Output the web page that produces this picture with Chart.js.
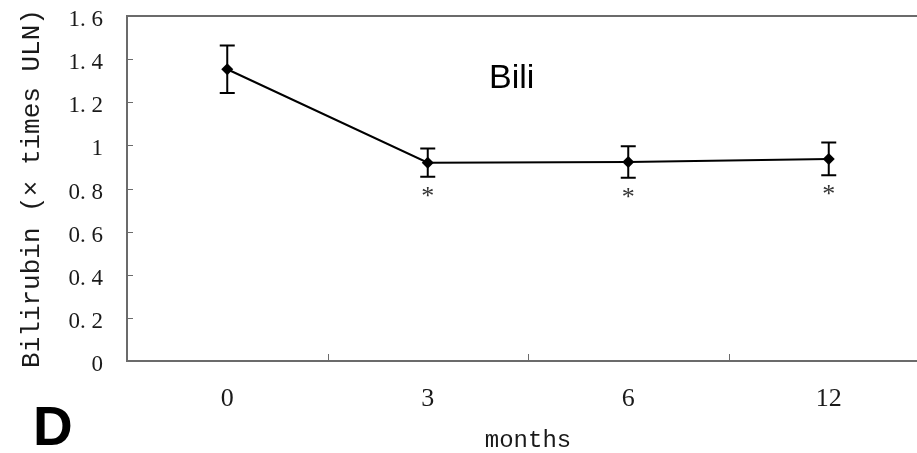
<!DOCTYPE html>
<html>
<head>
<meta charset="utf-8">
<script src="https://cdn.jsdelivr.net/npm/chart.js@4.4.1/dist/chart.umd.min.js"></script>
<style>
  html, body { margin: 0; padding: 0; background: #fff; overflow: hidden; }
  #wrap { position: relative; width: 940px; height: 453px; }
</style>
</head>
<body>
<div id="wrap"><canvas id="chart"></canvas></div>
<script>
// Follow-up visits (months) and mean bilirubin, expressed as multiples of ULN
const months = ['0', '3', '6', '12'];
const bilirubin = [1.353, 0.920, 0.923, 0.937];
const bilirubinSD = [0.110, 0.065, 0.073, 0.076];
const significance = ['', '*', '*', '*'];
const yTickLabels = ['0', '0. 2', '0. 4', '0. 6', '0. 8', '1', '1. 2', '1. 4', '1. 6'];

const AXIS_COLOR = '#6b6b6b';
const TEXT_COLOR = '#1a1a1a';
const MONO = '"Liberation Mono", "DejaVu Sans Mono", monospace';

// Frame top line, inward tick marks, error bars, significance marks and labels
const decorations = {
  id: 'decorations',
  beforeDatasetsDraw(chart) {
    const { ctx, chartArea: a, scales: { x, y } } = chart;
    ctx.save();
    // top edge of the plot frame
    ctx.strokeStyle = AXIS_COLOR;
    ctx.lineWidth = 2;
    ctx.beginPath();
    ctx.moveTo(a.left - 1, a.top);
    ctx.lineTo(a.right + 20, a.top);
    ctx.stroke();

    // y ticks pointing into the plot
    ctx.lineWidth = 1;
    y.ticks.forEach((t, i) => {
      if (i === 0 || i === y.ticks.length - 1) return;
      const py = Math.round(y.getPixelForValue(t.value)) + 0.5;
      ctx.beginPath();
      ctx.moveTo(a.left, py);
      ctx.lineTo(a.left + 6, py);
      ctx.stroke();
    });
    // x ticks between categories, pointing into the plot
    for (let i = 0; i < months.length - 1; i++) {
      const px = Math.round((x.getPixelForValue(i) + x.getPixelForValue(i + 1)) / 2) + 0.5;
      ctx.beginPath();
      ctx.moveTo(px, a.bottom);
      ctx.lineTo(px, a.bottom - 7);
      ctx.stroke();
    }

    // error bars (mean ± SD)
    ctx.strokeStyle = '#000';
    ctx.lineWidth = 2;
    bilirubin.forEach((v, i) => {
      const px = x.getPixelForValue(i);
      const top = y.getPixelForValue(v + bilirubinSD[i]);
      const bot = y.getPixelForValue(v - bilirubinSD[i]);
      ctx.beginPath();
      ctx.moveTo(px, top); ctx.lineTo(px, bot);
      ctx.moveTo(px - 7.5, top); ctx.lineTo(px + 7.5, top);
      ctx.moveTo(px - 7.5, bot); ctx.lineTo(px + 7.5, bot);
      ctx.stroke();
    });
    ctx.restore();
  },
  afterDraw(chart) {
    const { ctx, chartArea: a, scales: { x, y } } = chart;
    ctx.save();
    // significance asterisks below the error bars
    ctx.fillStyle = '#333';
    ctx.font = '26px "Liberation Serif"';
    ctx.textAlign = 'center';
    ctx.textBaseline = 'alphabetic';
    significance.forEach((s, i) => {
      if (!s) return;
      const px = x.getPixelForValue(i);
      const bot = y.getPixelForValue(bilirubin[i] - bilirubinSD[i]);
      ctx.fillText(s, px, bot + 27);
    });

    // series name inside the plot
    ctx.fillStyle = '#000';
    ctx.textAlign = 'left';
    ctx.font = '34px "Liberation Sans"';
    ctx.fillText('Bili', a.left + 362, a.top + 72);

    // panel letter
    ctx.font = 'bold 55px "Liberation Sans"';
    ctx.fillText('D', 33, 445);
    ctx.restore();
  }
};

new Chart(document.getElementById('chart'), {
  type: 'line',
  data: {
    labels: months,
    datasets: [{
      label: 'Bili',
      data: bilirubin,
      borderColor: '#000',
      borderWidth: 2,
      backgroundColor: '#000',
      pointStyle: 'rectRot',
      pointRadius: 6,
      pointBorderWidth: 0,
      pointBackgroundColor: '#000',
      tension: 0,
      fill: false
    }]
  },
  options: {
    responsive: true,
    maintainAspectRatio: false,
    animation: false,
    layout: { padding: { left: 0, top: 16, right: 11, bottom: 0 } },
    plugins: {
      legend: { display: false },
      tooltip: { enabled: false },
      title: { display: false }
    },
    scales: {
      x: {
        type: 'category',
        offset: true,
        grid: { display: false, drawTicks: false },
        border: { display: true, color: AXIS_COLOR, width: 2 },
        ticks: {
          color: TEXT_COLOR,
          padding: 23,
          maxRotation: 0,
          font: { family: '"Liberation Serif"', size: 26 }
        },
        title: {
          display: true,
          text: 'months',
          color: TEXT_COLOR,
          font: { family: MONO, size: 24, lineHeight: 1.2 },
          padding: { top: 0, bottom: -2 }
        },
        afterFit(scale) {
          scale.height = 92;
          scale.paddingLeft = 0;
          scale.paddingRight = 0;
        }
      },
      y: {
        min: 0,
        max: 1.6,
        grid: { display: false, drawTicks: false },
        border: { display: true, color: AXIS_COLOR, width: 2 },
        ticks: {
          stepSize: 0.2,
          color: TEXT_COLOR,
          padding: 24,
          labelOffset: 4,
          font: { family: '"Liberation Serif"', size: 23 },
          callback: (value, index) => yTickLabels[index]
        },
        title: {
          display: true,
          text: 'Bilirubin (× times ULN)',
          color: TEXT_COLOR,
          font: { family: MONO, size: 26, lineHeight: 1.2 },
          padding: { top: 17, bottom: 0 }
        },
        afterFit(scale) {
          scale.width = 127;
          scale.paddingTop = 0;
          scale.paddingBottom = 0;
        }
      }
    }
  },
  plugins: [decorations]
});
</script>
</body>
</html>
